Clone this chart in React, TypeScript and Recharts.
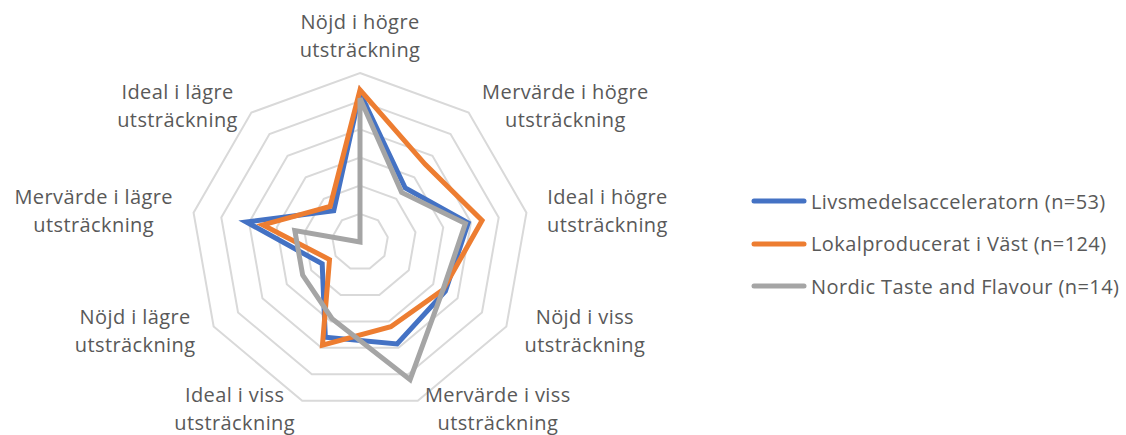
import { RadarChart, Radar, PolarGrid, PolarAngleAxis, PolarRadiusAxis, Legend } from 'recharts';

const AXES = [
  'Nöjd i högre utsträckning',
  'Mervärde i högre utsträckning',
  'Ideal i högre utsträckning',
  'Nöjd i viss utsträckning',
  'Mervärde i viss utsträckning',
  'Ideal i viss utsträckning',
  'Nöjd i lägre utsträckning',
  'Mervärde i lägre utsträckning',
  'Ideal i lägre utsträckning',
];

const LIVSMEDEL = [53, 25, 39, 35, 38.5, 36, 15.5, 41, 14.5];
const LOKAL = [54, 36, 44, 34, 32, 39, 12.5, 35, 16.5];
const NORDIC = [51, 23, 38, 34, 52, 29, 23.5, 23.5, 0];

const SERIES = [
  { key: 'livsmedel', name: 'Livsmedelsacceleratorn (n=53)', color: '#4472C4' },
  { key: 'lokal', name: 'Lokalproducerat i Väst (n=124)', color: '#ED7D31' },
  { key: 'nordic', name: 'Nordic Taste and Flavour (n=14)', color: '#A5A5A5' },
];

const data = AXES.map((axis, i) => ({
  axis,
  livsmedel: LIVSMEDEL[i],
  lokal: LOKAL[i],
  nordic: NORDIC[i],
}));

const W = 1126;
const H = 435;
const CX = 360;
const CY = 242;
const R = 169;
const FONT = '"Open Sans", sans-serif';
const FS = 20;
const LS = 0.4;
const TEXT = '#595959';

let ctx: CanvasRenderingContext2D | null = null;
function measure(s: string) {
  if (!ctx) ctx = document.createElement('canvas').getContext('2d');
  if (!ctx) return s.length * 10;
  ctx.font = `${FS}px "Open Sans"`;
  return ctx.measureText(s).width + LS * s.length;
}

// Excel-style labels: block sits beside the outer vertex, lines centered in the block
const AxisLabel = ({ payload }: any) => {
  const idx = AXES.indexOf(payload.value);
  const theta = (idx * 2 * Math.PI) / AXES.length;
  const s = Math.sin(theta);
  const c = Math.cos(theta);
  const cut = payload.value.lastIndexOf(' ');
  const lines = [payload.value.slice(0, cut), payload.value.slice(cut + 1)];
  const w = Math.max(...lines.map(measure));
  const edge = CX + (R + 21) * s;
  let x = edge;
  if (s > 0.01) x = edge + w / 2;
  else if (s < -0.01) x = edge - w / 2;
  const yc = idx === 0 ? CY - R - 37 : CY - (R + 9) * c;
  return (
    <text textAnchor="middle" fill={TEXT} fontSize={FS} fontFamily={FONT} letterSpacing={LS}>
      <tspan x={x} y={yc - 14 + 7}>{lines[0]}</tspan>
      <tspan x={x} y={yc + 14 + 7}>{lines[1]}</tspan>
    </text>
  );
};

const LegendBox = () => (
  <div style={{ fontFamily: FONT, fontSize: FS, letterSpacing: LS, color: TEXT }}>
    {SERIES.map((s) => (
      <div key={s.key} style={{ display: 'flex', alignItems: 'center', height: 42.5, whiteSpace: 'nowrap' }}>
        <svg width={56} height={8} style={{ marginRight: 4 }}>
          <line x1={3} y1={4} x2={53} y2={4} stroke={s.color} strokeWidth={5} strokeLinecap="round" />
        </svg>
        <span>{s.name}</span>
      </div>
    ))}
  </div>
);

export default function App() {
  return (
    <div style={{ position: 'absolute', left: 0, top: 0, width: W, height: H, background: '#fff' }}>
      <RadarChart width={W} height={H} data={data} cx={CX} cy={CY} outerRadius={R} startAngle={90} endAngle={-270}>
        <PolarGrid gridType="polygon" radialLines={false} stroke="#d9d9d9" strokeWidth={2} />
        <PolarAngleAxis dataKey="axis" tick={<AxisLabel />} tickLine={false} axisLine={false} />
        <PolarRadiusAxis domain={[0, 60]} tickCount={7} tick={false} axisLine={false} />
        {SERIES.map((s) => (
          <Radar
            key={s.key}
            dataKey={s.key}
            name={s.name}
            stroke={s.color}
            strokeWidth={5}
            fill="none"
            fillOpacity={0}
            dot={false}
            isAnimationActive={false}
          />
        ))}
        <Legend
          layout="vertical"
          content={<LegendBox />}
          wrapperStyle={{ position: 'absolute', left: 751, top: 180, width: 'auto' }}
        />
      </RadarChart>
    </div>
  );
}
